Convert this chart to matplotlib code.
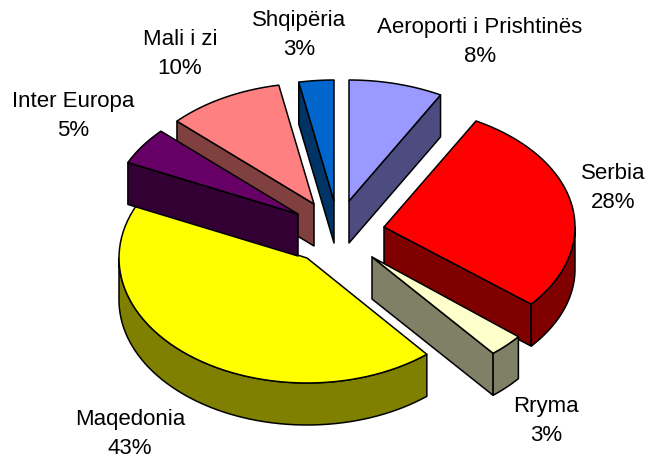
import numpy as np
import matplotlib
matplotlib.use("Agg")
import matplotlib.pyplot as plt
from matplotlib.patches import Polygon

labels = ["Aeroporti i Prishtinës", "Serbia", "Rryma", "Maqedonia", "Inter Europa", "Mali i zi", "Shqipëria"]
values = [8, 28, 3, 43, 5, 10, 3]
top_colors = ["#9999FF", "#FF0000", "#FFFFCC", "#FFFF00", "#660066", "#FF8080", "#0066CC"]
side_colors = ["#4C4C80", "#800000", "#808066", "#808000", "#330033", "#804040", "#003366"]

# where each exploded slice has its apex, in pixels
apex_x = [349, 384, 372, 307, 298, 314, 334]
apex_y = [201, 227, 257, 258, 214, 204, 201]
radius_x = [190, 191, 190, 188, 188, 188, 188]
radius_y = [121, 121, 125, 125, 121, 121, 121]
label_x = [480, 613, 546, 130, 73, 180, 299]
label_y = [42, 188, 421, 434, 116, 54, 35]

depth = 42

plt.rcParams['font.family'] = ['Liberation Sans', 'DejaVu Sans']
fig = plt.figure(figsize=(6.47, 4.61), dpi=100)
ax = fig.add_axes([0, 0, 1, 1])
ax.set_xlim(0, 647)
ax.set_ylim(461, 0)
ax.axis("off")


def rim(x0, y0, rx, ry, a, b):
	t = np.radians(np.linspace(a, b, 60))
	return np.column_stack([x0 + rx * np.sin(t), y0 - ry * np.cos(t)])


def add_poly(pts, color, z):
	ax.add_patch(Polygon(pts, closed=True, facecolor=color, edgecolor="black", linewidth=1.1, joinstyle="round", zorder=z))


edges = np.concatenate([[0], np.cumsum(values)]) * 3.6
# back slices first, Inter Europa sits over the yellow slice
order = [6, 5, 0, 1, 2, 3, 4]
for z, i in enumerate(order):
	a, b = edges[i], edges[i + 1]
	x0, y0, rx, ry = apex_x[i], apex_y[i], radius_x[i], radius_y[i]
	apex = np.array([x0, y0])
	down = np.array([0, depth])

	# cut faces, only those turned to the viewer
	for ang, show in ((a, 180 < a < 360), (b, 0 < b < 180)):
		if show:
			p = rim(x0, y0, rx, ry, ang, ang)[0]
			add_poly([apex, p, p + down, apex + down], side_colors[i], z * 3)

	# outer wall, front half only
	lo, hi = max(a, 90), min(b, 270)
	if hi > lo:
		arc = rim(x0, y0, rx, ry, lo, hi)
		add_poly(np.vstack([arc, (arc + down)[::-1]]), side_colors[i], z * 3 + 1)

	add_poly(np.vstack([apex, rim(x0, y0, rx, ry, a, b)]), top_colors[i], z * 3 + 2)

for i in range(len(labels)):
	ax.text(label_x[i], label_y[i], labels[i] + "\n" + str(values[i]) + "%", ha="center", va="center",
		fontsize=16, linespacing=1.55, color="black", zorder=100)

fig.savefig("out.png", dpi=100)
